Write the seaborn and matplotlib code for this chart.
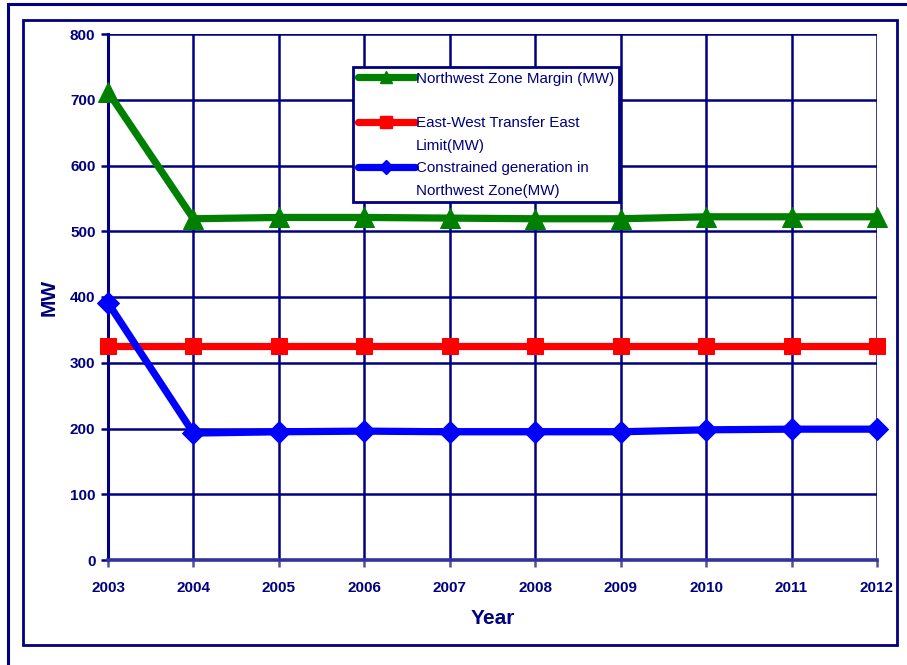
import matplotlib
matplotlib.use("Agg")
import matplotlib.pyplot as plt
from matplotlib.patches import Rectangle
from matplotlib.lines import Line2D
import seaborn as sns
import pandas as pd

years = [2003, 2004, 2005, 2006, 2007, 2008, 2009, 2010, 2011, 2012]
nw_margin = [712, 519, 521, 521, 520, 519, 519, 522, 522, 522]
ew_limit = [325, 325, 325, 325, 325, 325, 325, 325, 325, 325]
constrained = [391, 193, 195, 196, 195, 195, 195, 198, 199, 199]

# each legend entry: first line goes beside the marker, the rest below it
labels = [
    ["Northwest Zone Margin (MW)", ""],
    ["East-West Transfer East", "Limit(MW)"],
    ["Constrained generation in", "Northwest Zone(MW)"],
]
colors = ["#008000", "#ff0000", "#0000ff"]
markers = ["^", "s", "D"]
msizes = [14, 12, 11]
leg_msizes = [8, 9, 7]

navy = "#000080"

sns.set_theme(style="white")
plt.rcParams["font.family"] = ["Liberation Sans", "DejaVu Sans"]

fig = plt.figure(figsize=(9.07, 6.65), dpi=100)
ax = fig.add_axes([108 / 907, 1 - 560 / 665, (877 - 108) / 907, (560 - 34) / 665])

# frame boxes around the chart
fig.patches.append(Rectangle((8 / 907, -0.05), 1.2, 1 - 4 / 665 + 0.05,
                             transform=fig.transFigure, fill=False,
                             edgecolor=navy, lw=2.2, zorder=0))
fig.patches.append(Rectangle((23 / 907, 1 - 645 / 665), (897 - 23) / 907, (645 - 20) / 665,
                             transform=fig.transFigure, fill=False,
                             edgecolor=navy, lw=2.0, zorder=0))

series = [nw_margin, ew_limit, constrained]
for vals, lab, c, m, ms in zip(series, labels, colors, markers, msizes):
    df = pd.DataFrame({"Year": years, "MW": vals})
    sns.lineplot(data=df, x="Year", y="MW", ax=ax, color=c, marker=m,
                 markersize=ms, markeredgecolor=c, linewidth=5.2,
                 label=lab[0], clip_on=False, zorder=5, legend=False)

ax.set_xlim(2003, 2012)
ax.set_ylim(0, 800)
ax.set_xticks(years)
ax.set_yticks(range(0, 801, 100))
ax.grid(True, color=navy, lw=1.8)
ax.set_axisbelow(True)
for s in ["top", "right"]:
    ax.spines[s].set_visible(False)
ax.spines["left"].set_color(navy)
ax.spines["left"].set_linewidth(2.2)
ax.spines["bottom"].set_color("#333399")
ax.spines["bottom"].set_linewidth(2.6)

ax.tick_params(axis="both", colors=navy, labelsize=11, length=5, width=1.8,
               direction="out", bottom=True, left=True)
ax.tick_params(axis="x", pad=10, colors="#5050a8", labelcolor=navy)
ax.tick_params(axis="y", pad=4)
for t in ax.get_xticklabels() + ax.get_yticklabels():
    t.set_fontweight("bold")

ax.set_xlabel("Year", fontsize=15, fontweight="bold", color=navy, labelpad=10)
ax.set_ylabel("MW", fontsize=15, fontweight="bold", color=navy, labelpad=8)

# legend: line handle on the first text line of each entry
handles, texts = [], []
for lab, c, m, lms in zip(labels, colors, markers, leg_msizes):
    handles.append(Line2D([], [], color=c, lw=5.2, marker=m, markersize=lms,
                          markeredgecolor=c))
    texts.append(lab[0])
    handles.append(Line2D([], [], color="none"))
    texts.append(lab[1])

leg = ax.legend(handles, texts, loc="upper left",
                bbox_to_anchor=((353 - 108) / 769, 1 - (67 - 34) / 526),
                frameon=True, fancybox=False, framealpha=1, edgecolor=navy,
                fontsize=10.9, handlelength=3.8, handletextpad=0.05,
                borderpad=0.3, labelspacing=0.56, borderaxespad=0)
leg.get_frame().set_linewidth(2)
for t in leg.get_texts():
    t.set_color(navy)
leg.set_zorder(10)

fig.savefig("out.png", dpi=100, facecolor="white")
